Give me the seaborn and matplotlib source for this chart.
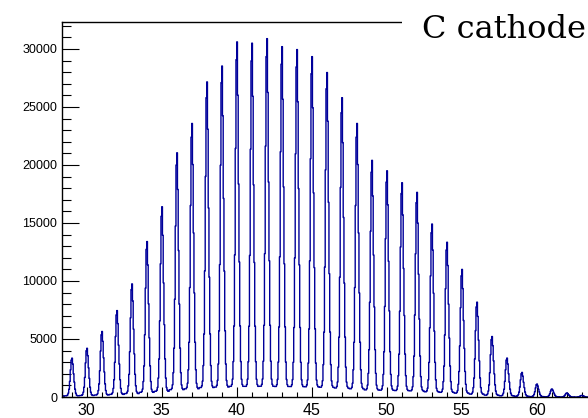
import numpy as np
import pandas as pd
import matplotlib
matplotlib.use("Agg")
import matplotlib.pyplot as plt
import seaborn as sns
from matplotlib.patches import Rectangle
from matplotlib.ticker import MultipleLocator

# ---- data ----
title = "C cathode"
peak_centres = [28, 29, 30, 31, 32, 33, 34, 35, 36, 37, 38, 39, 40, 41, 42, 43, 44, 45, 46,
                47, 48, 49, 50, 51, 52, 53, 54, 55, 56, 57, 58, 59, 60, 61, 62, 63, 64, 65]
peak_heights = [2400, 3350, 4200, 5650, 7450, 9750, 13400, 16400, 21050, 23580, 27160, 28530,
                30610, 30500, 30890, 30200, 29950, 29340, 27970, 25800, 23580, 20400, 19500,
                18470, 17640, 14910, 13340, 11000, 8175, 5215, 3355, 2120, 1120, 690, 345, 140,
                60, 25]
# relative shape of one peak (20 bins of 0.05 across one unit, peak in the middle)
peak_shape = [0.03, 0.03, 0.03, 0.035, 0.05, 0.10, 0.20, 0.40, 0.70, 0.95,
              1.00, 0.85, 0.60, 0.38, 0.20, 0.10, 0.05, 0.035, 0.03, 0.03]
bin_width = 0.05
x_ticks_major = [30, 35, 40, 45, 50, 55, 60]

# ---- build histogram table ----
offsets = (np.arange(len(peak_shape)) - len(peak_shape) / 2 + 0.5) * bin_width
centres = (np.array(peak_centres)[:, None] + offsets[None, :]).ravel()
counts = (np.array(peak_heights)[:, None] * np.array(peak_shape)[None, :]).ravel()
df = pd.DataFrame({"x": centres, "count": counts})

sns.set_style("white")
plt.rcParams["font.family"] = ["Liberation Sans", "DejaVu Sans"]
plt.rcParams["text.color"] = "black"
plt.rcParams["xtick.color"] = "black"
plt.rcParams["ytick.color"] = "black"

W, H = 588, 418
fig = plt.figure(figsize=(W / 100, H / 100), dpi=100)
left, right, bottom, top = 62, 620, 397, 21.7
ax = fig.add_axes([left / W, 1 - bottom / H, (right - left) / W, (bottom - top) / H])

sns.lineplot(data=df, x="x", y="count", estimator=None, sort=True,
             drawstyle="steps-mid", color="#00009a", linewidth=1.0, ax=ax)

px_per_unit = 15.0
xmin = 30 - (86.7 - left) / px_per_unit
ax.set_xlim(xmin, xmin + (right - left) / px_per_unit)
ax.set_ylim(0, 32350)

ax.set_xlabel("")
ax.set_ylabel("")
for s in ["left", "bottom", "top"]:
    ax.spines[s].set_color("black")
    ax.spines[s].set_linewidth(1.0)
ax.spines["right"].set_visible(False)

ax.xaxis.set_major_locator(MultipleLocator(5))
ax.xaxis.set_minor_locator(MultipleLocator(1))
ax.yaxis.set_major_locator(MultipleLocator(5000))
ax.yaxis.set_minor_locator(MultipleLocator(1000))
ax.set_xticks(x_ticks_major)

ax.tick_params(axis="y", which="major", direction="in", length=12.2, width=0.8,
               labelsize=9, pad=3.5, left=True, right=False, colors="black")
ax.tick_params(axis="y", which="minor", direction="in", length=6.5, width=0.8,
               left=True, right=False, colors="black")
ax.tick_params(axis="x", which="major", direction="in", length=7.2, width=0.8,
               labelsize=11.5, pad=4, bottom=True, top=False, colors="black")
ax.tick_params(axis="x", which="minor", direction="in", length=3.6, width=0.8,
               bottom=True, top=False, colors="black")

# title box covering the frame top on the right
fig.add_artist(Rectangle((402 / W, 1 - 45 / H), 1 - 402 / W, 45 / H,
                         transform=fig.transFigure, facecolor="white",
                         edgecolor="none", zorder=5))
fig.text(421.7 / W, 1 - 38.3 / H, title, ha="left", va="baseline",
         family="DejaVu Serif", fontsize=23, color="black", zorder=6)

fig.savefig("out.png", dpi=100)
